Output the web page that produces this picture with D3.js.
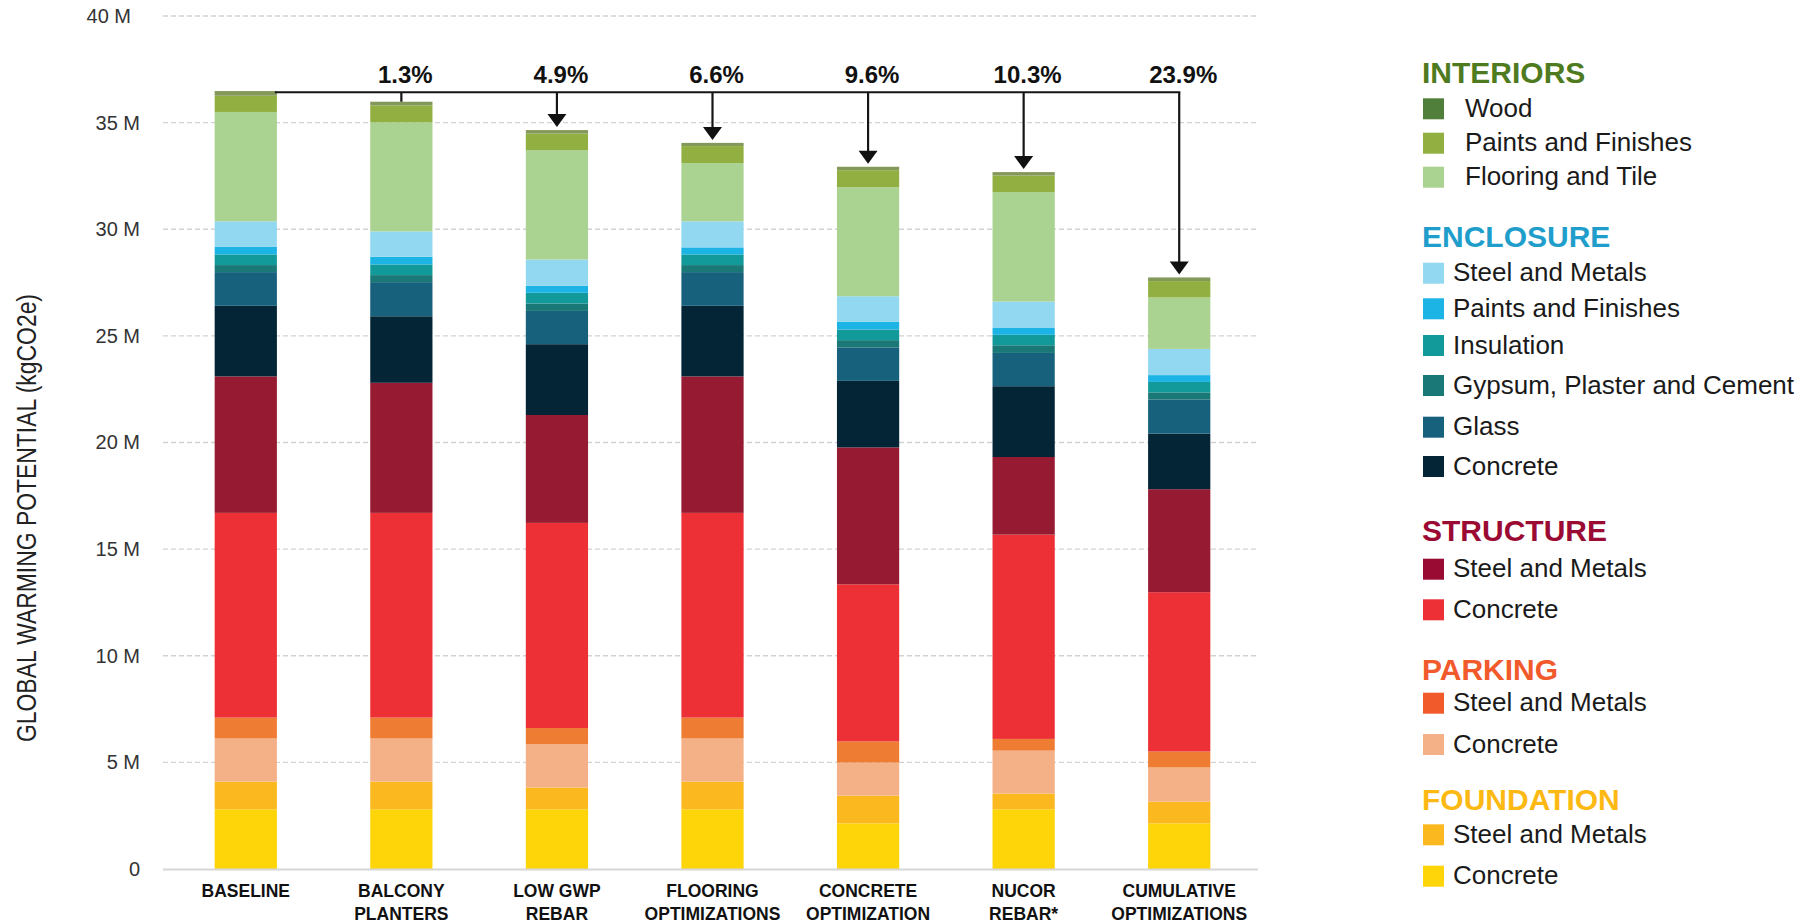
<!DOCTYPE html>
<html>
<head>
<meta charset="utf-8">
<script src="https://cdn.jsdelivr.net/npm/d3@7"></script>
<style>
  body { margin: 0; background: #fff; }
  svg { display: block; }
  text { font-family: "Liberation Sans", Arial, sans-serif; }
</style>
</head>
<body>
<svg id="chart" width="1806" height="924"></svg>
<script>
// ---------------- DATA ----------------
const categories = ["BASELINE", "BALCONY PLANTERS", "LOW GWP REBAR", "FLOORING OPTIMIZATIONS",
  "CONCRETE OPTIMIZATION", "NUCOR REBAR*", "CUMULATIVE OPTIMIZATIONS"];
const categoryLines = [["BASELINE"], ["BALCONY", "PLANTERS"], ["LOW GWP", "REBAR"],
  ["FLOORING", "OPTIMIZATIONS"], ["CONCRETE", "OPTIMIZATION"], ["NUCOR", "REBAR*"],
  ["CUMULATIVE", "OPTIMIZATIONS"]];

// values in millions kgCO2e, order follows categories
const foundationConcrete = [2.80, 2.80, 2.80, 2.80, 2.14, 2.80, 2.14];
const foundationSteel    = [1.30, 1.30, 1.02, 1.30, 1.30, 0.74, 1.02];
const parkingConcrete    = [2.02, 2.02, 2.03, 2.02, 1.55, 2.01, 1.60];
const parkingSteel       = [0.98, 0.98, 0.76, 0.98, 0.99, 0.55, 0.75];
const structureConcrete  = [9.60, 9.60, 9.62, 9.60, 7.37, 9.58, 7.47];
const structureSteel     = [6.40, 6.10, 5.06, 6.40, 6.42, 3.64, 4.83];
const enclosureConcrete  = [3.31, 3.12, 3.32, 3.31, 3.12, 3.32, 2.61];
const glass              = [1.58, 1.60, 1.56, 1.58, 1.57, 1.56, 1.60];
const gypsum             = [0.33, 0.33, 0.35, 0.33, 0.34, 0.36, 0.33];
const insulation         = [0.50, 0.50, 0.50, 0.50, 0.50, 0.49, 0.49];
const enclosurePaints    = [0.35, 0.36, 0.33, 0.33, 0.36, 0.34, 0.32];
const enclosureSteel     = [1.20, 1.19, 1.23, 1.22, 1.20, 1.22, 1.23];
const flooring           = [5.13, 5.12, 5.13, 2.73, 5.11, 5.13, 2.41];
const interiorPaints     = [0.76, 0.78, 0.78, 0.80, 0.80, 0.78, 0.77];
const wood               = [0.22, 0.18, 0.16, 0.15, 0.16, 0.16, 0.17];

const seriesKeys = ["foundationConcrete", "foundationSteel", "parkingConcrete", "parkingSteel",
  "structureConcrete", "structureSteel", "enclosureConcrete", "glass", "gypsum", "insulation",
  "enclosurePaints", "enclosureSteel", "flooring", "interiorPaints", "wood"];
const seriesValues = [foundationConcrete, foundationSteel, parkingConcrete, parkingSteel,
  structureConcrete, structureSteel, enclosureConcrete, glass, gypsum, insulation,
  enclosurePaints, enclosureSteel, flooring, interiorPaints, wood];

const yTicks = [0, 5, 10, 15, 20, 25, 30, 35, 40];
const pctLabels = ["", "1.3%", "4.9%", "6.6%", "9.6%", "10.3%", "23.9%"];

const legendGroups = ["INTERIORS", "ENCLOSURE", "STRUCTURE", "PARKING", "FOUNDATION"];
const legendItems = [
  ["Wood", "Paints and Finishes", "Flooring and Tile"],
  ["Steel and Metals", "Paints and Finishes", "Insulation", "Gypsum, Plaster and Cement", "Glass", "Concrete"],
  ["Steel and Metals", "Concrete"],
  ["Steel and Metals", "Concrete"],
  ["Steel and Metals", "Concrete"]];
const legendKeys = [
  ["wood", "interiorPaints", "flooring"],
  ["enclosureSteel", "enclosurePaints", "insulation", "gypsum", "glass", "enclosureConcrete"],
  ["structureSteel", "structureConcrete"],
  ["parkingSteel", "parkingConcrete"],
  ["foundationSteel", "foundationConcrete"]];

// ---------------- STYLE ----------------
const barColor = {
  foundationConcrete: "#fdd509", foundationSteel: "#fcb91f", parkingConcrete: "#f4b188",
  parkingSteel: "#ee7d33", structureConcrete: "#ed3035", structureSteel: "#961b32",
  enclosureConcrete: "#032535", glass: "#17617d", gypsum: "#1a7876", insulation: "#12999a",
  enclosurePaints: "#1cb3e5", enclosureSteel: "#92d8f0", flooring: "#aad290",
  interiorPaints: "#92b042", wood: "#84985a"
};
const legendColor = Object.assign({}, barColor, { wood: "#4f7f3b", parkingSteel: "#f15a2b", structureSteel: "#9a0b33" });
const headerColor = ["#4e7a20", "#1f9ecb", "#9b0a33", "#f15a2b", "#fdb913"];
const headerBaselines = [82.7, 247.3, 540.7, 680, 810];
const itemTops = [[98.3, 132.7, 166.7], [262.7, 298.3, 335, 375, 416.7, 456],
  [558.7, 599.3], [692.7, 734], [824.3, 865.7]];

// ---------------- CHART ----------------
const svg = d3.select("#chart");
const y = d3.scaleLinear().domain([0, 40]).range([869, 16]);
const x = d3.scaleBand().domain(categories).range([168, 1257]).paddingInner(0.6).paddingOuter(0.3);
const gridX0 = 163, gridX1 = 1258;

// grid lines
svg.append("g").selectAll("line").data(yTicks.filter(d => d > 0)).join("line")
  .attr("x1", gridX0).attr("x2", gridX1)
  .attr("y1", d => y(d)).attr("y2", d => y(d))
  .attr("stroke", "#d2d2d2").attr("stroke-width", 1.3).attr("stroke-dasharray", "5,3");

// y axis labels
const yAxis = d3.axisLeft(y).tickValues(yTicks).tickSize(0).tickPadding(23)
  .tickFormat(d => d === 0 ? "0" : d + " M");
const ga = svg.append("g").attr("transform", `translate(${gridX0},0)`).call(yAxis);
ga.select(".domain").remove();
ga.selectAll("text").attr("font-size", 20).attr("fill", "#333")
  .attr("font-family", "'Liberation Sans', Arial, sans-serif")
  .attr("dx", d => d === 40 ? -9 : 0);

// y title
svg.append("text")
  .attr("transform", "translate(36,518) rotate(-90)")
  .attr("text-anchor", "middle").attr("font-size", 28).attr("fill", "#222")
  .attr("textLength", 448).attr("lengthAdjust", "spacingAndGlyphs")
  .text("GLOBAL WARMING POTENTIAL (kgCO2e)");

// stacked bars
const rows = categories.map((c, i) => {
  const r = { category: c };
  seriesKeys.forEach((k, j) => { r[k] = seriesValues[j][i]; });
  return r;
});
const stacked = d3.stack().keys(seriesKeys)(rows);
svg.append("g").selectAll("g").data(stacked).join("g")
  .attr("fill", s => barColor[s.key])
  .selectAll("rect").data(s => s).join("rect")
  .attr("x", d => x(d.data.category))
  .attr("width", x.bandwidth())
  .attr("y", d => y(d[1]))
  .attr("height", d => y(d[0]) - y(d[1]));

// baseline axis line
svg.append("line").attr("x1", gridX0).attr("x2", gridX1)
  .attr("y1", y(0) + 0.5).attr("y2", y(0) + 0.5)
  .attr("stroke", "#d6d6d6").attr("stroke-width", 2);

// x labels
const xl = svg.append("g");
categories.forEach((c, i) => {
  categoryLines[i].forEach((ln, k) => {
    xl.append("text")
      .attr("x", x(c) + x.bandwidth() / 2)
      .attr("y", 896.7 + k * 23.3)
      .attr("text-anchor", "middle").attr("font-size", 17.5).attr("font-weight", "bold")
      .attr("fill", "#111").text(ln);
  });
});

// reduction annotations
const totals = rows.map(r => d3.sum(seriesKeys, k => r[k]));
const lineY = y(totals[0]) + 1.2;
const cx = i => x(categories[i]) + x.bandwidth() / 2;
const ann = svg.append("g").attr("stroke", "#151515").attr("stroke-width", 2.2).attr("fill", "none");
ann.append("line")
  .attr("x1", x(categories[0]) + x.bandwidth() - 2).attr("x2", cx(categories.length - 1) + 1.1)
  .attr("y1", lineY).attr("y2", lineY);
categories.forEach((c, i) => {
  if (i === 0) return;
  const top = y(totals[i]);
  const tip = top - 3;
  if (tip - lineY < 20) {
    ann.append("line").attr("x1", cx(i)).attr("x2", cx(i)).attr("y1", lineY).attr("y2", top);
  } else {
    ann.append("line").attr("x1", cx(i)).attr("x2", cx(i)).attr("y1", lineY).attr("y2", tip - 12);
    svg.append("path")
      .attr("d", `M${cx(i) - 9.5},${tip - 13} L${cx(i) + 9.5},${tip - 13} L${cx(i)},${tip} Z`)
      .attr("fill", "#111");
  }
  svg.append("text").attr("x", cx(i) + 4).attr("y", 83.3)
    .attr("text-anchor", "middle").attr("font-size", 24).attr("font-weight", "bold")
    .attr("fill", "#111").text(pctLabels[i]);
});

// legend
const lg = svg.append("g");
legendGroups.forEach((g, gi) => {
  lg.append("text").attr("x", 1422).attr("y", headerBaselines[gi])
    .attr("font-size", 30).attr("font-weight", "bold").attr("fill", headerColor[gi]).text(g);
  legendItems[gi].forEach((label, ii) => {
    const t = itemTops[gi][ii];
    lg.append("rect").attr("x", 1423).attr("y", t).attr("width", 21).attr("height", 21)
      .attr("fill", legendColor[legendKeys[gi][ii]]);
    lg.append("text").attr("x", gi === 0 ? 1465 : 1453).attr("y", t + 18.5)
      .attr("font-size", 26).attr("fill", "#1a1a1a").text(label);
  });
});
</script>
</body>
</html>
